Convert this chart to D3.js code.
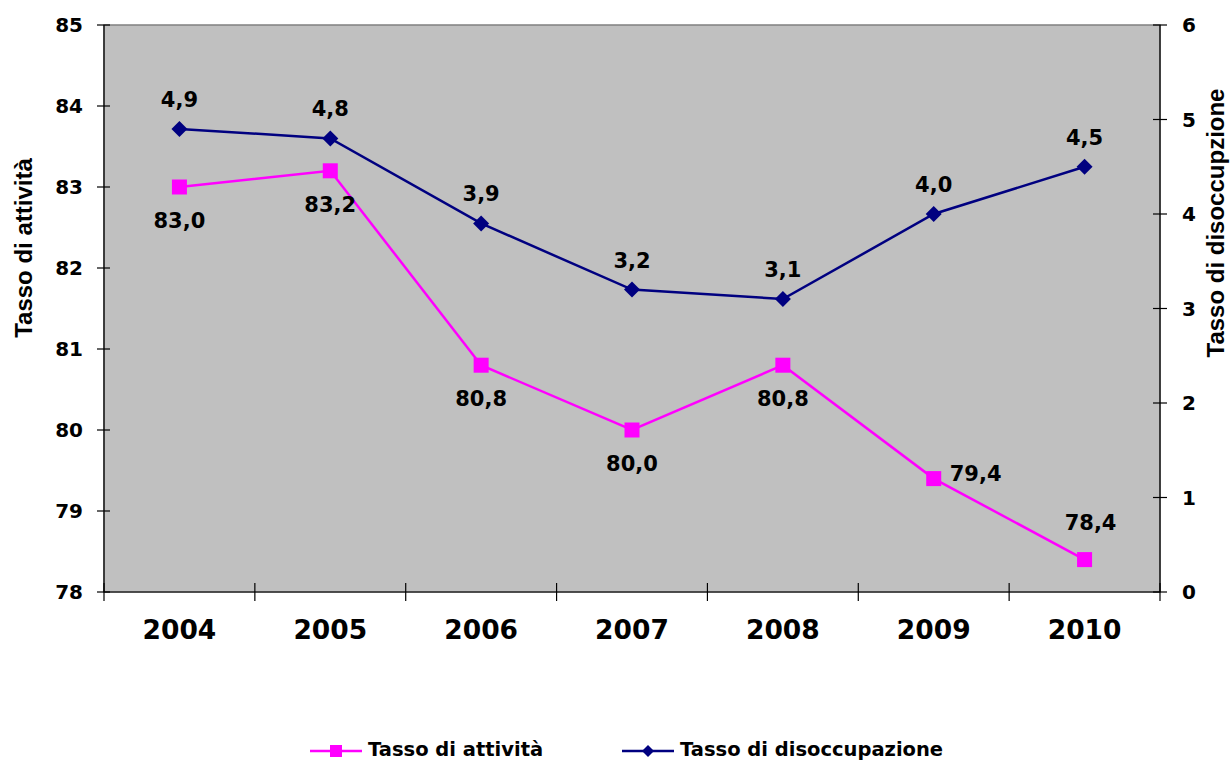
<!DOCTYPE html>
<html>
<head>
<meta charset="utf-8">
<script src="https://cdn.jsdelivr.net/npm/d3@7/dist/d3.min.js"></script>
<style>
  body { margin: 0; background: #fff; }
  svg { display: block; }
  .tick-lbl { font-family: "DejaVu Sans", Verdana, sans-serif; font-weight: bold; fill: #000; }
  .ax-title { font-family: "Liberation Sans", Arial, sans-serif; font-weight: bold; font-size: 24px; fill: #000; }
</style>
</head>
<body>
<svg id="chart" width="1232" height="762"></svg>
<script>
// data
const years = ['2004', '2005', '2006', '2007', '2008', '2009', '2010'];
const attivita = [83.0, 83.2, 80.8, 80.0, 80.8, 79.4, 78.4];
const disoccupazione = [4.9, 4.8, 3.9, 3.2, 3.1, 4.0, 4.5];
const attivitaLblPos = ['below', 'below', 'below', 'below', 'below', 'right', 'above'];
const disoccLblPos = ['above', 'above', 'above', 'above', 'above', 'above', 'above'];
const leftTicks = [78, 79, 80, 81, 82, 83, 84, 85];
const rightTicks = [0, 1, 2, 3, 4, 5, 6];
const seriesNames = ['Tasso di attività', 'Tasso di disoccupazione'];

const PINK = '#FF00FF', NAVY = '#000080';
const fmt = v => d3.format('.1f')(v).replace('.', ',');

const svg = d3.select('#chart');
const m = { left: 104, right: 1160, top: 25, bottom: 592 };

const x = d3.scaleBand().domain(years).range([m.left, m.right]);
const yL = d3.scaleLinear().domain([78, 85]).range([m.bottom, m.top]);
const yR = d3.scaleLinear().domain([0, 6]).range([m.bottom, m.top]);
const cx = d => x(d) + x.bandwidth() / 2;

// plot area
svg.append('rect')
  .attr('x', m.left).attr('y', m.top)
  .attr('width', m.right - m.left).attr('height', m.bottom - m.top)
  .attr('fill', '#C0C0C0')
  .attr('stroke', '#808080').attr('stroke-width', 1.5);

// axes with crossing ticks
const axisG = svg.append('g').attr('stroke', '#000').attr('stroke-width', 1.2);
axisG.append('line').attr('x1', m.left).attr('x2', m.left).attr('y1', m.top).attr('y2', m.bottom);
axisG.append('line').attr('x1', m.right).attr('x2', m.right).attr('y1', m.top).attr('y2', m.bottom);
axisG.append('line').attr('x1', m.left).attr('x2', m.right).attr('y1', m.bottom).attr('y2', m.bottom);

leftTicks.forEach(t => {
  axisG.append('line').attr('x1', m.left - 7).attr('x2', m.left + 6).attr('y1', yL(t)).attr('y2', yL(t));
  svg.append('text').attr('class', 'tick-lbl').style('font-size', '20px')
    .attr('x', 83).attr('y', yL(t)).attr('dy', '0.36em')
    .attr('text-anchor', 'end').text(t);
});
rightTicks.forEach(t => {
  axisG.append('line').attr('x1', m.right - 7).attr('x2', m.right + 7).attr('y1', yR(t)).attr('y2', yR(t));
  svg.append('text').attr('class', 'tick-lbl').style('font-size', '20px')
    .attr('x', 1182).attr('y', yR(t)).attr('dy', '0.36em')
    .attr('text-anchor', 'start').text(t);
});
const xEdges = years.map(d => x(d)).concat([m.right]);
xEdges.forEach(xe => {
  axisG.append('line').attr('x1', xe).attr('x2', xe).attr('y1', m.bottom - 9).attr('y2', m.bottom + 9);
});
years.forEach(d => {
  svg.append('text').attr('class', 'tick-lbl').style('font-size', '26.5px')
    .attr('x', cx(d)).attr('y', 639).attr('text-anchor', 'middle').text(d);
});

// axis titles
svg.append('text').attr('class', 'ax-title')
  .attr('transform', 'translate(23,248) rotate(-90)')
  .attr('text-anchor', 'middle').attr('dominant-baseline', 'central')
  .text('Tasso di attività');
svg.append('text').attr('class', 'ax-title')
  .attr('transform', 'translate(1215,223) rotate(-90)')
  .attr('text-anchor', 'middle').attr('dominant-baseline', 'central')
  .text('Tasso di disoccupzione');

// series lines
const lineL = d3.line().x((v, i) => cx(years[i])).y(v => yL(v));
const lineR = d3.line().x((v, i) => cx(years[i])).y(v => yR(v));

svg.append('path').attr('d', lineL(attivita))
  .attr('fill', 'none').attr('stroke', PINK).attr('stroke-width', 2.5);
svg.append('path').attr('d', lineR(disoccupazione))
  .attr('fill', 'none').attr('stroke', NAVY).attr('stroke-width', 2.5);

const sq = 15, dm = 8;
attivita.forEach((v, i) => {
  svg.append('rect')
    .attr('x', cx(years[i]) - sq / 2).attr('y', yL(v) - sq / 2)
    .attr('width', sq).attr('height', sq).attr('fill', PINK);
});
disoccupazione.forEach((v, i) => {
  const px = cx(years[i]), py = yR(v);
  svg.append('path')
    .attr('d', `M${px},${py - dm} L${px + dm},${py} L${px},${py + dm} L${px - dm},${py} Z`)
    .attr('fill', NAVY);
});

// data labels
function addLabel(px, py, pos, txt) {
  const t = svg.append('text').attr('class', 'tick-lbl').style('font-size', '21px').text(txt);
  if (pos === 'below') t.attr('x', px).attr('y', py + 41).attr('text-anchor', 'middle');
  else if (pos === 'above') t.attr('x', px + 6).attr('y', py - 22).attr('text-anchor', 'middle');
  else if (pos === 'right') t.attr('x', px + 16).attr('y', py + 2).attr('text-anchor', 'start');
}
attivita.forEach((v, i) => {
  const pos = attivitaLblPos[i];
  const py = pos === 'above' ? yL(v) - 8 : yL(v);
  addLabel(cx(years[i]), py, pos, fmt(v));
});
disoccupazione.forEach((v, i) => addLabel(cx(years[i]) - 6, yR(v), disoccLblPos[i], fmt(v)));

// legend
const legend = [
  { name: seriesNames[0], color: PINK, x0: 310, marker: 'square' },
  { name: seriesNames[1], color: NAVY, x0: 622, marker: 'diamond' }
];
legend.forEach(l => {
  const ly = 751, mx = l.x0 + 26;
  svg.append('line').attr('x1', l.x0).attr('x2', l.x0 + 52).attr('y1', ly).attr('y2', ly)
    .attr('stroke', l.color).attr('stroke-width', 2.5);
  if (l.marker === 'square') {
    svg.append('rect').attr('x', mx - 6).attr('y', ly - 6).attr('width', 12).attr('height', 12).attr('fill', l.color);
  } else {
    const s = 6;
    svg.append('path').attr('d', `M${mx},${ly - s} L${mx + s},${ly} L${mx},${ly + s} L${mx - s},${ly} Z`).attr('fill', l.color);
  }
  svg.append('text').attr('class', 'tick-lbl').style('font-size', '19.5px')
    .attr('x', l.x0 + 58).attr('y', 756).text(l.name);
});
</script>
</body>
</html>
